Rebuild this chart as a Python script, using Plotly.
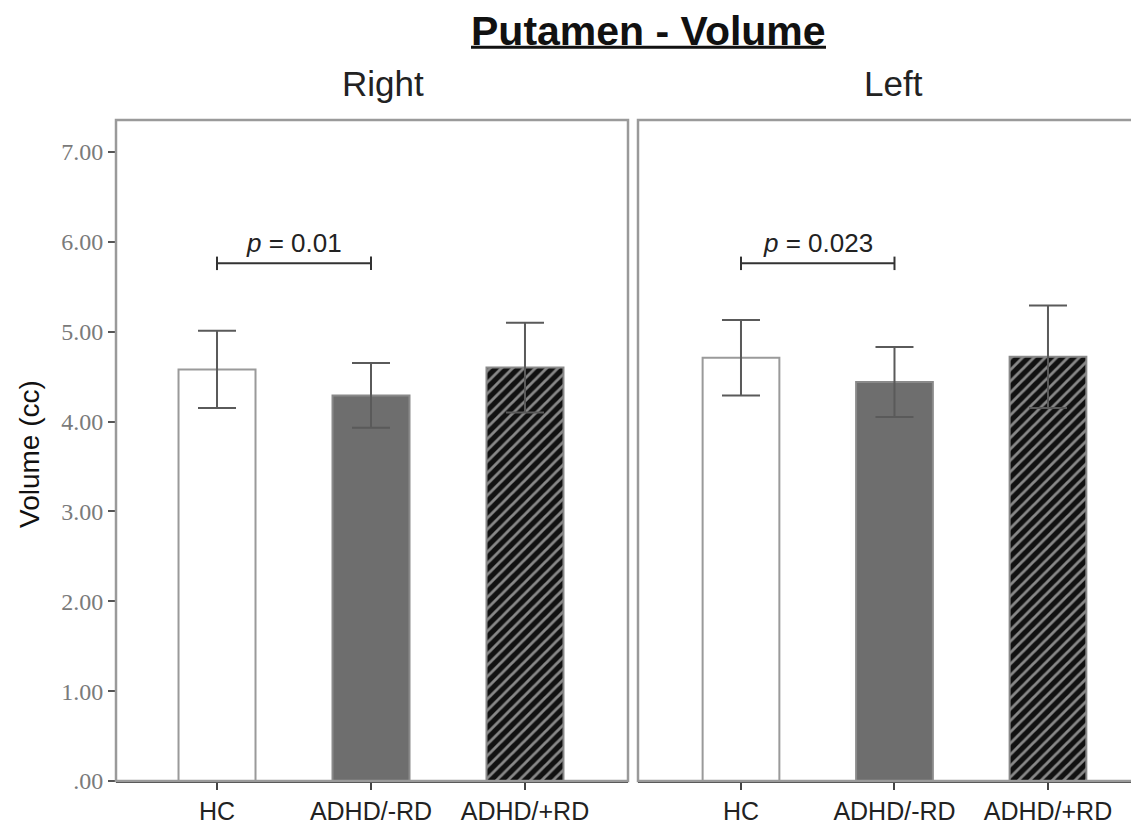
import plotly.graph_objects as go

categories = ["HC", "ADHD/-RD", "ADHD/+RD"]
right_mean = [4.58, 4.29, 4.60]
right_sd = [0.43, 0.36, 0.50]
left_mean = [4.71, 4.44, 4.72]
left_sd = [0.42, 0.39, 0.57]
y_ticks = [0, 1, 2, 3, 4, 5, 6, 7]
y_ticktext = [".00", "1.00", "2.00", "3.00", "4.00", "5.00", "6.00", "7.00"]
panel_titles = ["Right", "Left"]
p_labels = ["<i>p</i> = 0.01", "<i>p</i> = 0.023"]
bracket_y = 5.76

OFF = 8  # default page body margin
W, H = 1139 - OFF, 825 - OFF
ML, MR, MT, MB = 116 - OFF, 0, 120 - OFF, 42
PW = W - ML - MR
PH = H - MT - MB


def px_x(x):
    return (x - OFF - ML) / PW


def px_y(y):
    return (H + OFF - MB - y) / PH


fill_colors = ["#ffffff", "#6e6e6e", "#111111"]
pattern_shapes = ["", "", "/"]
line_colors = ["#9a9a9a", "#8a8a8a", "#8a8a8a"]

fig = go.Figure()
for i, (means, sds) in enumerate([(right_mean, right_sd), (left_mean, left_sd)]):
    xa = "x" if i == 0 else "x2"
    ya = "y" if i == 0 else "y2"
    fig.add_trace(go.Bar(
        x=categories, y=means, xaxis=xa, yaxis=ya, width=0.5,
        marker=dict(color=fill_colors, line=dict(color=line_colors, width=2),
                    pattern=dict(shape=pattern_shapes, fgcolor="#7a7a7a",
                                 bgcolor="#0d0d0d", size=8, solidity=0.35)),
        error_y=dict(type="data", array=sds, visible=True, color="#5a5a5a",
                     thickness=2, width=19),
        showlegend=False, hoverinfo="skip",
    ))

tick_font = dict(family="Liberation Serif", size=24, color="#7a7a7a")
xfont = dict(family="Liberation Sans", size=25, color="#222222")

fig.update_layout(
    width=W, height=H,
    margin=dict(l=ML, r=MR, t=MT, b=MB),
    paper_bgcolor="white", plot_bgcolor="white",
    xaxis=dict(domain=[0, px_x(628)], range=[-0.656, 2.669], showgrid=False,
               showline=True, linecolor="#444444", linewidth=2,
               ticks="outside", ticklen=7, tickwidth=2, tickcolor="#444444",
               tickfont=xfont, zeroline=False, fixedrange=True),
    xaxis2=dict(domain=[px_x(638), 1], range=[-0.671, 2.593], showgrid=False,
                showline=True, linecolor="#444444", linewidth=2,
                ticks="outside", ticklen=7, tickwidth=2, tickcolor="#444444",
                tickfont=xfont, zeroline=False, fixedrange=True),
    yaxis=dict(range=[0, 7.355], tickvals=y_ticks, ticktext=y_ticktext,
               ticks="outside", ticklen=7, tickwidth=2, tickcolor="#555555",
               tickfont=tick_font, showgrid=False, zeroline=False,
               showline=False, fixedrange=True),
    yaxis2=dict(range=[0, 7.355], anchor="x2", showticklabels=False,
                showgrid=False, zeroline=False, showline=False, fixedrange=True),
)

shapes = []
# panel frames
shapes.append(dict(type="rect", xref="x domain", yref="y domain", x0=0, x1=1,
                   y0=0, y1=1, line=dict(color="#9a9a9a", width=2.5), layer="above"))
shapes.append(dict(type="rect", xref="x2 domain", yref="y2 domain", x0=0, x1=1.05,
                   y0=0, y1=1, line=dict(color="#9a9a9a", width=2.5), layer="above"))
# significance brackets
for i in range(2):
    xa = "x" if i == 0 else "x2"
    ya = "y" if i == 0 else "y2"
    shapes.append(dict(type="line", xref=xa, yref=ya, x0=0, x1=1, y0=bracket_y,
                       y1=bracket_y, line=dict(color="#333333", width=2)))
    for xc in (0, 1):
        shapes.append(dict(type="line", xref=xa, yref=ya, x0=xc, x1=xc,
                           y0=bracket_y - 0.075, y1=bracket_y + 0.075,
                           line=dict(color="#333333", width=2)))
# title underline
shapes.append(dict(type="line", xref="paper", yref="paper", x0=px_x(471), x1=px_x(826),
                   y0=px_y(47), y1=px_y(47), line=dict(color="#111111", width=3)))

annotations = []
for i in range(2):
    xa = "x" if i == 0 else "x2"
    ya = "y" if i == 0 else "y2"
    annotations.append(dict(x=0.5, y=bracket_y, xref=xa, yref=ya, text=p_labels[i],
                            showarrow=False, xanchor="center", yanchor="bottom", yshift=3,
                            font=dict(family="Liberation Sans", size=26, color="#222222")))
for txt, xp in zip(panel_titles, (383, 893)):
    annotations.append(dict(x=px_x(xp), y=px_y(83), xref="paper", yref="paper",
                            text=txt, showarrow=False, xanchor="center", yanchor="middle",
                            font=dict(family="Liberation Sans", size=35, color="#222222")))
annotations.append(dict(x=px_x(648), y=px_y(31), xref="paper", yref="paper",
                        text="<b>Putamen - Volume</b>", showarrow=False,
                        xanchor="center", yanchor="middle",
                        font=dict(family="Liberation Sans", size=41, color="#111111")))
annotations.append(dict(x=px_x(30), y=px_y(455), xref="paper", yref="paper",
                        text="Volume (cc)", showarrow=False, textangle=-90,
                        xanchor="center", yanchor="middle",
                        font=dict(family="Liberation Sans", size=28, color="#111111")))

fig.update_layout(shapes=shapes, annotations=annotations)
fig.write_html("out.html")
